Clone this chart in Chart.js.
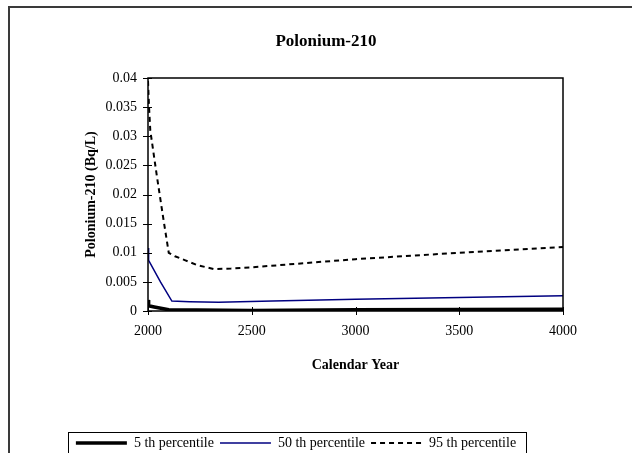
<!DOCTYPE html>
<html>
<head>
<meta charset="utf-8">
<script src="https://cdn.jsdelivr.net/npm/chart.js@4.4.1/dist/chart.umd.min.js"></script>
<style>
  html, body { margin: 0; padding: 0; background: #fff; }
  canvas { display: block; }
</style>
</head>
<body>
<canvas id="chart" width="632" height="453"></canvas>
<script>
// values
const p5Years = [2000, 2003, 2030, 2100, 2500, 3000, 4000];
const p5Values = [0.0019, 0.0009, 0.0007, 0.0002, 0.0001, 0.0002, 0.0003];

const p50Years = [2000, 2003, 2060, 2115, 2200, 2340, 2600, 3000, 3500, 4000];
const p50Values = [0.0108, 0.0087, 0.0050, 0.0017, 0.0016, 0.00152, 0.0017, 0.0020, 0.0023, 0.0026];

const p95Years = [2000, 2005, 2011, 2043, 2075, 2100, 2130, 2180, 2236, 2316, 2400, 2500, 3000, 3500, 4000];
const p95Values = [0.0395, 0.0350, 0.0310, 0.0231, 0.0156, 0.0100, 0.0094, 0.0087, 0.0079, 0.0072, 0.0073, 0.0075, 0.0089, 0.0100, 0.0110];

const seriesLabels = ['5 th percentile', '50 th percentile', '95 th percentile'];
const xTicks = [2000, 2500, 3000, 3500, 4000];

const toPoints = (xs, ys) => xs.map((x, i) => ({ x, y: ys[i] }));

Chart.defaults.font.family = '"Liberation Serif", "Times New Roman", serif';
Chart.defaults.color = '#000';

const LEGEND_CENTER = 296;

const framePlugin = {
  id: 'frame',
  afterLayout(chart) {
    // Excel-like placement of the title and legend
    chart.titleBlock.left = 20;
    chart.titleBlock.right = 632;
    const lg = chart.legend;
    lg.left = 0;
    lg.right = LEGEND_CENTER * 2;
    lg.top = 430;
    lg.bottom = 470; // legend clips to its own box
  },
  beforeDraw(chart) {
    const { ctx } = chart;
    ctx.save();
    ctx.strokeStyle = '#3a3a3a';
    ctx.lineWidth = 2;
    ctx.strokeRect(9, 7, 700, 500);
    ctx.restore();
  },
  afterDatasetsDraw(chart) {
    const { ctx, chartArea: a } = chart;
    const xs = chart.scales.x;
    const ys = chart.scales.y;
    ctx.save();
    ctx.strokeStyle = '#000';
    ctx.lineWidth = 1;
    ctx.beginPath();
    ys.ticks.forEach((t) => {
      const py = Math.round(ys.getPixelForValue(t.value)) + 0.5;
      ctx.moveTo(a.left - 5, py);
      ctx.lineTo(a.left + 4, py);
    });
    xs.ticks.forEach((t) => {
      const px = Math.round(xs.getPixelForValue(t.value)) + 0.5;
      ctx.moveTo(px, a.bottom - 4);
      ctx.lineTo(px, a.bottom + 4);
    });
    ctx.stroke();
    ctx.lineWidth = 1.5;
    ctx.strokeRect(a.left, a.top, a.right - a.left, a.bottom - a.top);
    // legend frame
    ctx.lineWidth = 1;
    ctx.strokeRect(68.5, 432.5, 458, 40);
    ctx.restore();
  },
};

new Chart(document.getElementById('chart'), {
  type: 'line',
  data: {
    datasets: [
      {
        label: seriesLabels[0],
        data: toPoints(p5Years, p5Values),
        borderColor: '#000',
        backgroundColor: '#000',
        borderWidth: 3.5,
      },
      {
        label: seriesLabels[1],
        data: toPoints(p50Years, p50Values),
        borderColor: '#000080',
        backgroundColor: '#000080',
        borderWidth: 1.5,
      },
      {
        label: seriesLabels[2],
        data: toPoints(p95Years, p95Values),
        borderColor: '#000',
        backgroundColor: '#000',
        borderWidth: 2,
        borderDash: [5, 4],
      },
    ],
  },
  options: {
    responsive: false,
    animation: false,
    events: [],
    elements: {
      point: { radius: 0 },
      line: { tension: 0, fill: false },
    },
    layout: {
      padding: { left: 0, right: 69, top: 0, bottom: 49.6 },
    },
    plugins: {
      title: {
        display: true,
        text: 'Polonium-210',
        font: { size: 17, weight: 'bold' },
        color: '#000',
        padding: { top: 31.8, bottom: 25.8 },
      },
      legend: {
        position: 'bottom',
        maxHeight: 30,
        labels: {
          usePointStyle: true,
          pointStyle: 'line',
          pointStyleWidth: 51,
          padding: 6,
          font: { size: 14 },
          color: '#000',
          generateLabels: (chart) => {
            const items = Chart.defaults.plugins.legend.labels.generateLabels(chart);
            items.forEach((it) => {
              const ds = chart.data.datasets[it.datasetIndex];
              it.lineDash = ds.borderDash || [];
              it.lineWidth = ds.borderWidth;
              it.strokeStyle = ds.borderColor;
            });
            return items;
          },
        },
      },
      tooltip: { enabled: false },
    },
    scales: {
      x: {
        type: 'linear',
        min: 2000,
        max: 4000,
        afterBuildTicks: (scale) => { scale.ticks = xTicks.map((v) => ({ value: v })); },
        afterFit: (scale) => { scale.height = 62.4; },
        grid: { display: false, drawTicks: false },
        border: { display: false },
        ticks: {
          padding: 12.3,
          font: { size: 14 },
          color: '#000',
          maxRotation: 0,
          callback: (v) => String(v),
        },
        title: {
          display: true,
          text: 'Calendar Year',
          font: { size: 14, weight: 'bold' },
          color: '#000',
          padding: { top: 0, bottom: 0 },
        },
      },
      y: {
        min: 0,
        max: 0.04,
        afterFit: (scale) => { scale.width = 148; },
        grid: { display: false, drawTicks: false },
        border: { display: false },
        ticks: {
          stepSize: 0.005,
          padding: 11,
          font: { size: 14 },
          color: '#000',
          callback: (v) => String(+v.toFixed(3)),
        },
        title: {
          display: true,
          text: 'Polonium-210 (Bq/L)',
          font: { size: 14, weight: 'bold' },
          color: '#000',
          padding: { top: 82.6, bottom: 0 },
        },
      },
    },
  },
  plugins: [framePlugin],
});
</script>
</body>
</html>
